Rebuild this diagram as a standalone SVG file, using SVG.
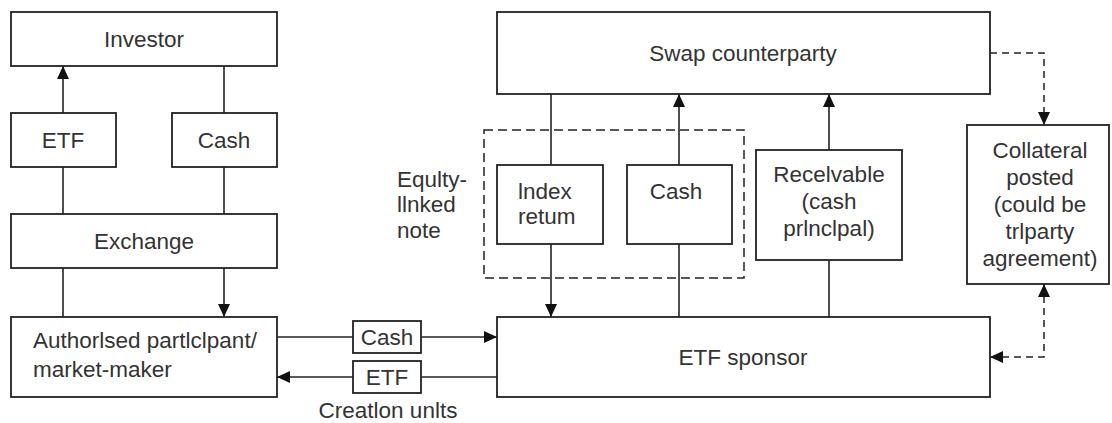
<svg xmlns="http://www.w3.org/2000/svg" width="1112" height="423" viewBox="0 0 1112 423">
  <defs>
    <style>
      .box { fill: #ffffff; stroke: #222222; stroke-width: 1.8; }
      .dbox { fill: none; stroke: #222222; stroke-width: 1.5; stroke-dasharray: 9 5; }
      .ln { fill: none; stroke: #222222; stroke-width: 1.6; }
      .dln { fill: none; stroke: #222222; stroke-width: 1.5; stroke-dasharray: 7 5; }
      .t { font-family: "Liberation Sans", Arial, sans-serif; font-size: 22.5px; fill: #333333; }
      .c { text-anchor: middle; }
    </style>
    <marker id="arr" viewBox="0 0 13 12" refX="13" refY="6" markerWidth="13" markerHeight="12" markerUnits="userSpaceOnUse" orient="auto-start-reverse">
      <path d="M0,0 L13,6 L0,12 Z" fill="#111111"/>
    </marker>
  </defs>
  <rect width="1112" height="423" fill="#ffffff"/>

  <g id="connectors">
    <path class="ln" d="M63,113 V66" marker-end="url(#arr)"/>
    <path class="ln" d="M224,66 V113"/>
    <path class="ln" d="M63,167 V214"/>
    <path class="ln" d="M224,167 V214"/>
    <path class="ln" d="M63,268 V317"/>
    <path class="ln" d="M224,268 V317" marker-end="url(#arr)"/>
    <path class="ln" d="M277,337 H353"/>
    <path class="ln" d="M421,337 H497" marker-end="url(#arr)"/>
    <path class="ln" d="M497,377 H421"/>
    <path class="ln" d="M353,377 H277" marker-end="url(#arr)"/>
    <path class="ln" d="M551,94 V165"/>
    <path class="ln" d="M551,244 V317" marker-end="url(#arr)"/>
    <path class="ln" d="M679,317 V244"/>
    <path class="ln" d="M679,165 V94" marker-end="url(#arr)"/>
    <path class="ln" d="M829,317 V260"/>
    <path class="ln" d="M829,150 V94" marker-end="url(#arr)"/>
    <path class="dln" d="M990,53 H1044 V125" marker-end="url(#arr)"/>
    <path class="dln" d="M1044,284 V357 H990" marker-start="url(#arr)" marker-end="url(#arr)"/>
  </g>

  <g id="equity-linked-note">
    <rect class="dbox" x="484" y="130" width="260" height="148"/>
    <text class="t" x="397" y="187">Equlty-</text>
    <text class="t" x="397" y="212">llnked</text>
    <text class="t" x="397" y="238">note</text>
  </g>

  <g id="investor">
    <rect class="box" x="11" y="12" width="266" height="54"/>
    <text class="t c" x="144" y="47">Investor</text>
  </g>
  <g id="etf-top">
    <rect class="box" x="11" y="113" width="105" height="54"/>
    <text class="t c" x="63" y="148">ETF</text>
  </g>
  <g id="cash-top">
    <rect class="box" x="172" y="113" width="105" height="54"/>
    <text class="t c" x="224" y="148">Cash</text>
  </g>
  <g id="exchange">
    <rect class="box" x="11" y="214" width="266" height="54"/>
    <text class="t c" x="144" y="249">Exchange</text>
  </g>
  <g id="authorised-participant">
    <rect class="box" x="11" y="317" width="266" height="80"/>
    <text class="t" x="33" y="348">Authorlsed partlclpant/</text>
    <text class="t" x="33" y="377">market-maker</text>
  </g>
  <g id="cash-flow">
    <rect class="box" x="353" y="321" width="68" height="32"/>
    <text class="t c" x="387" y="345">Cash</text>
  </g>
  <g id="etf-flow">
    <rect class="box" x="353" y="361" width="68" height="32"/>
    <text class="t c" x="387" y="385">ETF</text>
  </g>
  <g id="creation-units">
    <text class="t c" x="388" y="418">Creatlon unlts</text>
  </g>
  <g id="swap-counterparty">
    <rect class="box" x="497" y="12" width="493" height="82"/>
    <text class="t c" x="743" y="61">Swap counterparty</text>
  </g>
  <g id="index-return">
    <rect class="box" x="497" y="165" width="106" height="79"/>
    <text class="t" x="518" y="199">lndex</text>
    <text class="t" x="518" y="224">retum</text>
  </g>
  <g id="cash-mid">
    <rect class="box" x="627" y="165" width="105" height="79"/>
    <text class="t c" x="676" y="199">Cash</text>
  </g>
  <g id="receivable">
    <rect class="box" x="756" y="150" width="146" height="110"/>
    <text class="t c" x="829" y="182">Recelvable</text>
    <text class="t c" x="829" y="209">(cash</text>
    <text class="t c" x="829" y="236">prlnclpal)</text>
  </g>
  <g id="collateral">
    <rect class="box" x="967" y="125" width="142" height="159"/>
    <text class="t c" x="1040" y="158">Collateral</text>
    <text class="t c" x="1040" y="185">posted</text>
    <text class="t c" x="1040" y="212">(could be</text>
    <text class="t c" x="1040" y="239">trlparty</text>
    <text class="t c" x="1040" y="266">agreement)</text>
  </g>
  <g id="etf-sponsor">
    <rect class="box" x="497" y="317" width="493" height="80"/>
    <text class="t c" x="743" y="365">ETF sponsor</text>
  </g>
</svg>
